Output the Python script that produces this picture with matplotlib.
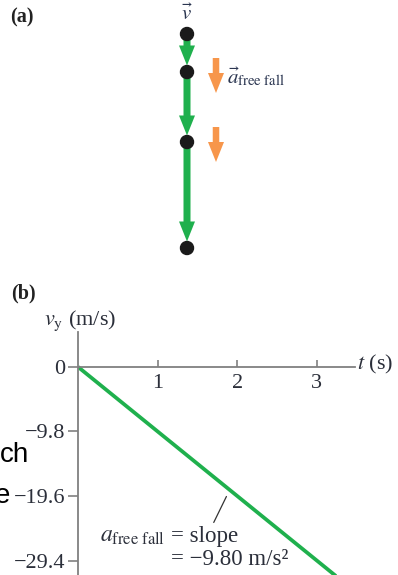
import numpy as np
import matplotlib
matplotlib.use('Agg')
import matplotlib.pyplot as plt
from matplotlib.patches import FancyArrow, Circle

plt.rcParams['font.family'] = ['Liberation Serif', 'DejaVu Serif']
plt.rcParams['mathtext.fontset'] = 'stix'

GREEN = '#1fb04d'
ORANGE = '#f7964b'
AXIS = '#808080'
TEXT = '#2b2f3a'

# motion diagram (pixel units, y down)
dot_x = 187
dot_y = [34, 72, 142, 248]
acc_x = 216
acc_spans = [(58, 93), (127, 162)]

# velocity graph
slope = -9.80
t_line = [0.0, 3.3]
v_line = [slope * t for t in t_line]
x_ticks = [1, 2, 3]
y_ticks = [0, -9.8, -19.6, -29.4]
y_labels = ['0', '\u22129.8', '\u221219.6', '\u221229.4']

W, H = 398, 575
fig = plt.figure(figsize=(W / 100, H / 100), dpi=100)

# ---- (a) motion diagram ----
top = fig.add_axes([0, 0, 1, 1])
top.set_xlim(0, W)
top.set_ylim(H, 0)
top.axis('off')

r = 6.5
for y0, y1 in zip(dot_y[:-1], dot_y[1:]):
    top.add_patch(FancyArrow(dot_x, y0, 0, (y1 - r) - y0, width=7, head_width=16,
                             head_length=20, length_includes_head=True,
                             color=GREEN, lw=0, zorder=2))
for y in dot_y:
    top.add_patch(Circle((dot_x, y), r, color='#1a1a1a', zorder=3))
for y0, y1 in acc_spans:
    top.add_patch(FancyArrow(acc_x, y0, 0, y1 - y0, width=6.5, head_width=16,
                             head_length=20, length_includes_head=True,
                             color=ORANGE, lw=0, zorder=2))

top.text(10, 17, '(a)', fontsize=14.5, fontweight='bold', va='center', color='#222222')
top.text(dot_x, 15, r'$\vec{v}$', fontsize=15, ha='center', va='center', color='#2a3550')
top.text(227, 77, r'$\vec{a}_{\mathrm{free\ fall}}$', fontsize=15, ha='left', va='center',
         color='#2a3550')

# stray slide text on the left edge
top.text(0, 462, 'ch', fontsize=20, family='Liberation Sans', ha='left', va='baseline')
top.text(10, 503, 'e', fontsize=20, family='Liberation Sans', ha='right', va='baseline')

# ---- (b) v_y vs t ----
ax = fig.add_axes([78 / W, 0, (355 - 78) / W, (H - 332) / H])
ax.patch.set_alpha(0)
ax.set_xlim(0, 3.48)
ax.set_ylim(-31.6, 5.3)
ax.spines['top'].set_visible(False)
ax.spines['right'].set_visible(False)
ax.spines['bottom'].set_position(('data', 0))
for s in ('left', 'bottom'):
    ax.spines[s].set_color(AXIS)
    ax.spines[s].set_linewidth(1.3)

ax.set_xticks(x_ticks)
ax.set_xticklabels([str(t) for t in x_ticks], fontsize=16, color=TEXT)
ax.set_yticks(y_ticks)
ax.set_yticklabels(y_labels, fontsize=16, color=TEXT)
ax.tick_params(axis='x', direction='in', length=5, width=1.2, color=AXIS, pad=5)
ax.tick_params(axis='y', direction='out', length=7, width=1.2, color=AXIS, pad=2)

ax.plot(t_line, v_line, color=GREEN, lw=2.7, solid_capstyle='butt', clip_on=True)

ax.text(3.5, 0.3, r'$t$ (s)', fontsize=16, ha='left', va='center', color=TEXT, clip_on=False)
fig.text(44 / W, 1 - 321 / H, r'$v_{\mathrm{y}}$ (m/s)', fontsize=16, ha='left', va='center',
         color=TEXT)
fig.text(11 / W, 1 - 293 / H, '(b)', fontsize=14.5, fontweight='bold', va='center', color='#222222')

# slope callout
ax.annotate('', xy=(1.88, -19.3), xytext=(1.69, -24.0),
            arrowprops=dict(arrowstyle='-', color='#333333', lw=0.9))
ax.text(1.1, -25.8, r'$a_{\mathrm{free\ fall}}$', fontsize=17, ha='right', va='center', color=TEXT)
ax.text(1.17, -25.8, '= slope', fontsize=16.5, ha='left', va='center', color=TEXT)
ax.text(1.17, -29.2, '= \u2212%.2f m/s\u00b2' % abs(slope), fontsize=16.5, ha='left', va='center',
        color=TEXT)

fig.savefig('out.png', dpi=100)
